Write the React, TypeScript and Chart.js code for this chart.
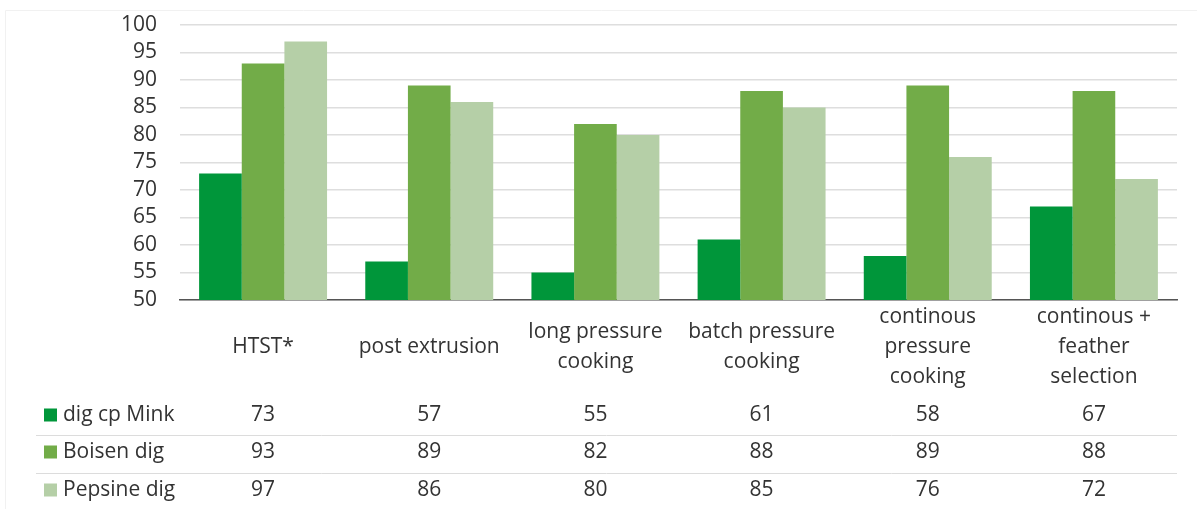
import React, { useEffect, useRef } from "react";
import { Chart, registerables } from "chart.js";

Chart.register(...registerables);

const categories: string[][] = [
  ["HTST*"],
  ["post extrusion"],
  ["long pressure", "cooking"],
  ["batch pressure", "cooking"],
  ["continous", "pressure", "cooking"],
  ["continous +", "feather", "selection"],
];
const seriesNames = ["dig cp Mink", "Boisen dig", "Pepsine dig"];
const digCpMink = [73, 57, 55, 61, 58, 67];
const boisenDig = [93, 89, 82, 88, 89, 88];
const pepsineDig = [97, 86, 80, 85, 76, 72];
const seriesColors = ["#00963a", "#72ac48", "#b5cfa7"];
const yMin = 50;
const yMax = 100;
const yStep = 5;

const FONT = "'Open Sans', 'Noto Sans', sans-serif";
const TEXT = "#333333";

const tablePlugin = {
  id: "dataTable",
  afterDraw(chart: any) {
    const ctx = chart.ctx as CanvasRenderingContext2D;
    const xs = chart.scales.x;
    const area = chart.chartArea;
    const series = [digCpMink, boisenDig, pepsineDig];
    ctx.save();
    ctx.strokeStyle = "#f1f1f1";
    ctx.lineWidth = 1;
    ctx.beginPath();
    ctx.moveTo(5.5, 509);
    ctx.lineTo(5.5, 10.5);
    ctx.lineTo(1197, 10.5);
    ctx.stroke();

    ctx.font = `21px ${FONT}`;
    ctx.fillStyle = TEXT;
    ctx.textAlign = "center";
    ctx.textBaseline = "middle";
    const labelCenter = 347;
    const lh = 30;
    categories.forEach((lines, i) => {
      const cx = xs.getPixelForValue(i);
      const start = labelCenter - ((lines.length - 1) * lh) / 2;
      lines.forEach((ln, j) => ctx.fillText(ln, cx, start + j * lh));
    });
    const rowY = [415, 452, 490];
    ctx.strokeStyle = "#dcdcdc";
    ctx.lineWidth = 1;
    [435.5, 473.5].forEach((y) => {
      ctx.beginPath();
      ctx.moveTo(36, y);
      ctx.lineTo(area.right, y);
      ctx.stroke();
    });
    seriesNames.forEach((name, r) => {
      const y = rowY[r];
      ctx.fillStyle = seriesColors[r];
      ctx.fillRect(44, y - 6.5, 13, 13);
      ctx.fillStyle = TEXT;
      ctx.textAlign = "left";
      ctx.fillText(name, 63, y);
      ctx.textAlign = "center";
      series[r].forEach((v, i) => {
        ctx.fillText(String(v), xs.getPixelForValue(i), y);
      });
    });
    ctx.restore();
  },
};

export default function App() {
  const ref = useRef<HTMLCanvasElement | null>(null);
  useEffect(() => {
    document.body.style.margin = "0";
    const canvas = ref.current!;
    const chart = new Chart(canvas, {
      type: "bar",
      data: {
        labels: categories.map((c) => c.join(" ")),
        datasets: [digCpMink, boisenDig, pepsineDig].map((d, i) => ({
          label: seriesNames[i],
          data: d,
          backgroundColor: seriesColors[i],
          borderWidth: 0,
          categoryPercentage: 0.77,
          barPercentage: 1.0,
        })),
      },
      options: {
        animation: false,
        responsive: false,
        devicePixelRatio: 1,
        layout: { padding: { left: 0, right: 20, top: 25, bottom: 209 } },
        plugins: { legend: { display: false }, tooltip: { enabled: false } },
        scales: {
          x: {
            grid: { display: false, drawTicks: false },
            border: { display: true, color: "#555555", width: 1.5 },
            ticks: { display: false },
          },
          y: {
            min: yMin,
            max: yMax,
            afterFit: (s: any) => {
              s.width = 180;
              s.paddingTop = 0;
              s.paddingBottom = 0;
            },
            ticks: {
              stepSize: yStep,
              autoSkip: false,
              padding: 23,
              color: TEXT,
              font: { family: FONT, size: 21 },
            },
            grid: { color: "#dedede", lineWidth: 1.5, drawTicks: false },
            border: { display: false },
          },
        },
      },
      plugins: [tablePlugin],
    });
    return () => chart.destroy();
  }, []);
  return <canvas ref={ref} width={1197} height={509} style={{ display: "block" }} />;
}
